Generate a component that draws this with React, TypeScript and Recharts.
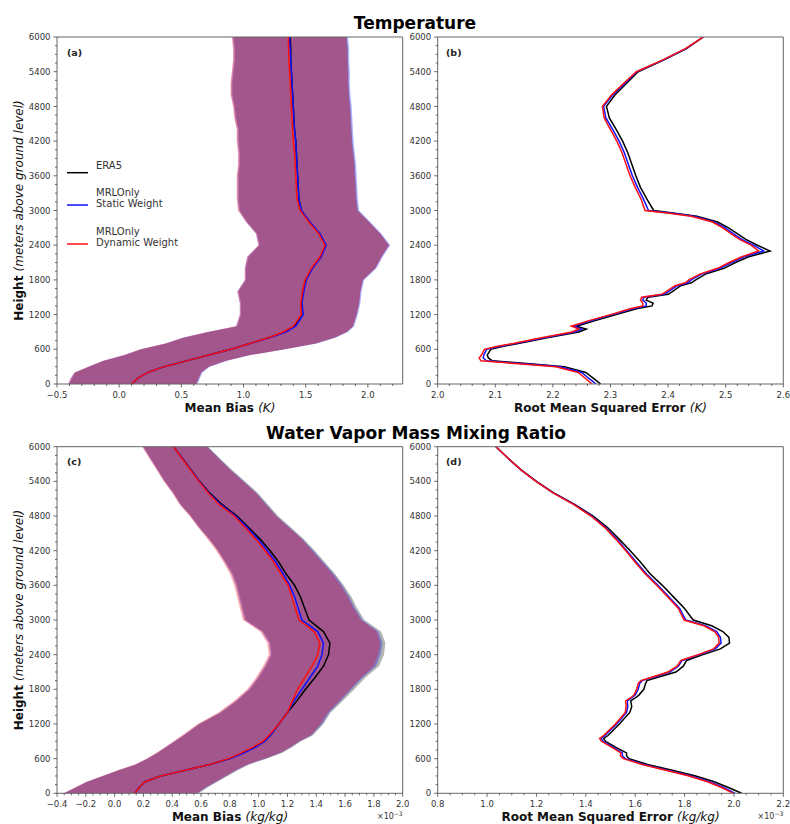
import React from 'react';
import { ComposedChart, Line, Area, XAxis, YAxis } from 'recharts';

const W = 790;
const H = 824;
const FONT = '"DejaVu Sans", sans-serif';
const TXT = '#333';
const FRAME = '#666';
const COL_ERA5 = '#000000';
const COL_SW = '#1010ff';
const COL_DW = '#ff1010';

// ---------- heights ----------
const H_AC = [0, 100, 200, 300, 400, 500, 600, 700, 800, 900, 1000, 1200, 1400, 1600, 1800, 2000, 2200, 2400, 2600, 2800, 3000, 3200, 3400, 3600, 3800, 4000, 4200, 4400, 4600, 4800, 5000, 5200, 5400, 5600, 5800, 6000];
const H_B = [0, 100, 200, 300, 350, 400, 450, 500, 600, 650, 700, 800, 900, 950, 1000, 1100, 1200, 1300, 1350, 1400, 1450, 1500, 1550, 1600, 1700, 1750, 1800, 1900, 2000, 2100, 2200, 2300, 2400, 2500, 2600, 2700, 2800, 2900, 2950, 3000, 3200, 3400, 3600, 3800, 4000, 4200, 4400, 4600, 4800, 5000, 5200, 5400, 5600, 5800, 6000];
const H_D = [0, 100, 200, 300, 400, 500, 600, 650, 700, 800, 900, 950, 1000, 1200, 1400, 1500, 1600, 1650, 1700, 1800, 1900, 1950, 2000, 2100, 2200, 2300, 2400, 2500, 2600, 2700, 2800, 2900, 3000, 3200, 3400, 3600, 3800, 4000, 4200, 4400, 4600, 4800, 5000, 5200, 5400, 5600, 5800, 6000];

// ---------- (a) Temperature mean bias (K) ----------
const A_ERA5 = [0.10, 0.15, 0.23, 0.36, 0.54, 0.72, 0.90, 1.05, 1.20, 1.33, 1.41, 1.47, 1.465, 1.475, 1.50, 1.55, 1.62, 1.66, 1.61, 1.53, 1.465, 1.445, 1.44, 1.435, 1.43, 1.425, 1.42, 1.41, 1.405, 1.40, 1.395, 1.39, 1.385, 1.38, 1.38, 1.375];
const A_SW = [0.10, 0.15, 0.23, 0.36, 0.54, 0.72, 0.90, 1.05, 1.21, 1.34, 1.42, 1.48, 1.47, 1.485, 1.505, 1.555, 1.625, 1.665, 1.615, 1.535, 1.465, 1.445, 1.44, 1.435, 1.43, 1.425, 1.42, 1.41, 1.405, 1.40, 1.395, 1.39, 1.385, 1.38, 1.375, 1.37];
const A_DW = [0.10, 0.15, 0.23, 0.36, 0.54, 0.72, 0.90, 1.05, 1.20, 1.32, 1.40, 1.465, 1.46, 1.475, 1.495, 1.545, 1.615, 1.655, 1.605, 1.525, 1.455, 1.43, 1.425, 1.42, 1.415, 1.41, 1.40, 1.395, 1.39, 1.385, 1.38, 1.375, 1.37, 1.365, 1.362, 1.36];
const A_ERA5_LO = [-0.40, -0.38, -0.35, -0.24, -0.12, 0.05, 0.18, 0.38, 0.52, 0.72, 0.95, 0.98, 0.98, 0.96, 1.02, 1.02, 1.04, 1.13, 1.11, 1.03, 0.97, 0.96, 0.96, 0.96, 0.97, 0.97, 0.96, 0.96, 0.94, 0.93, 0.91, 0.91, 0.92, 0.93, 0.93, 0.92];
const A_ERA5_HI = [0.62, 0.64, 0.66, 0.72, 0.86, 1.05, 1.33, 1.58, 1.73, 1.83, 1.88, 1.91, 1.93, 1.94, 1.96, 2.06, 2.11, 2.17, 2.10, 2.01, 1.92, 1.91, 1.905, 1.90, 1.895, 1.885, 1.875, 1.87, 1.865, 1.86, 1.85, 1.845, 1.845, 1.84, 1.84, 1.83];
const A_SW_LO = [-0.41, -0.39, -0.36, -0.25, -0.13, 0.04, 0.17, 0.37, 0.51, 0.71, 0.94, 0.97, 0.97, 0.95, 1.01, 1.01, 1.03, 1.12, 1.10, 1.02, 0.96, 0.95, 0.95, 0.95, 0.96, 0.96, 0.95, 0.95, 0.93, 0.92, 0.90, 0.90, 0.91, 0.92, 0.92, 0.91];
const A_SW_HI = [0.63, 0.65, 0.67, 0.73, 0.87, 1.06, 1.34, 1.59, 1.74, 1.84, 1.89, 1.92, 1.94, 1.95, 1.97, 2.07, 2.12, 2.18, 2.11, 2.02, 1.93, 1.92, 1.915, 1.91, 1.905, 1.895, 1.885, 1.88, 1.875, 1.87, 1.86, 1.855, 1.855, 1.85, 1.85, 1.84];
const A_DW_LO = [-0.41, -0.39, -0.36, -0.25, -0.13, 0.04, 0.17, 0.37, 0.51, 0.71, 0.94, 0.97, 0.97, 0.95, 1.01, 1.01, 1.03, 1.12, 1.10, 1.02, 0.955, 0.945, 0.945, 0.945, 0.955, 0.955, 0.945, 0.945, 0.925, 0.915, 0.895, 0.895, 0.905, 0.915, 0.915, 0.905];
const A_DW_HI = [0.62, 0.64, 0.66, 0.72, 0.86, 1.05, 1.33, 1.58, 1.73, 1.83, 1.88, 1.91, 1.93, 1.94, 1.96, 2.06, 2.11, 2.17, 2.10, 2.01, 1.915, 1.905, 1.90, 1.895, 1.89, 1.88, 1.87, 1.865, 1.86, 1.855, 1.845, 1.84, 1.84, 1.835, 1.835, 1.825];

// ---------- (b) Temperature RMSE (K) ----------
const B_ERA5 = [2.283, 2.270, 2.257, 2.22, 2.16, 2.095, 2.088, 2.086, 2.092, 2.112, 2.14, 2.19, 2.245, 2.258, 2.241, 2.275, 2.31, 2.345, 2.372, 2.374, 2.362, 2.365, 2.40, 2.408, 2.422, 2.44, 2.448, 2.465, 2.497, 2.517, 2.54, 2.577, 2.555, 2.535, 2.52, 2.505, 2.486, 2.45, 2.415, 2.375, 2.363, 2.352, 2.344, 2.337, 2.33, 2.321, 2.31, 2.298, 2.293, 2.308, 2.328, 2.348, 2.392, 2.432, 2.461];
const B_SW = [2.275, 2.262, 2.25, 2.212, 2.15, 2.085, 2.079, 2.08, 2.085, 2.106, 2.135, 2.185, 2.238, 2.25, 2.236, 2.268, 2.303, 2.338, 2.362, 2.362, 2.356, 2.358, 2.393, 2.401, 2.416, 2.434, 2.44, 2.458, 2.49, 2.51, 2.532, 2.566, 2.548, 2.528, 2.513, 2.499, 2.48, 2.445, 2.41, 2.366, 2.357, 2.347, 2.338, 2.331, 2.324, 2.315, 2.304, 2.292, 2.288, 2.304, 2.325, 2.346, 2.391, 2.431, 2.461];
const B_DW = [2.268, 2.256, 2.244, 2.205, 2.14, 2.075, 2.072, 2.076, 2.081, 2.102, 2.131, 2.18, 2.233, 2.245, 2.232, 2.264, 2.3, 2.334, 2.356, 2.356, 2.352, 2.354, 2.389, 2.397, 2.412, 2.43, 2.436, 2.455, 2.486, 2.506, 2.528, 2.557, 2.544, 2.524, 2.509, 2.495, 2.477, 2.44, 2.405, 2.36, 2.353, 2.343, 2.334, 2.327, 2.32, 2.311, 2.3, 2.289, 2.286, 2.302, 2.323, 2.345, 2.39, 2.43, 2.461];

// ---------- (c) Water vapor mean bias (x1e-3 kg/kg) ----------
const C_ERA5 = [0.14, 0.17, 0.21, 0.32, 0.49, 0.66, 0.80, 0.89, 0.97, 1.04, 1.08, 1.14, 1.20, 1.265, 1.325, 1.39, 1.45, 1.485, 1.495, 1.45, 1.35, 1.32, 1.29, 1.25, 1.19, 1.14, 1.08, 1.01, 0.93, 0.85, 0.745, 0.66, 0.59, 0.53, 0.47, 0.41];
const C_SW = [0.14, 0.17, 0.21, 0.32, 0.49, 0.66, 0.80, 0.90, 0.98, 1.04, 1.08, 1.14, 1.20, 1.245, 1.30, 1.355, 1.41, 1.44, 1.45, 1.41, 1.30, 1.275, 1.25, 1.215, 1.17, 1.12, 1.06, 0.995, 0.92, 0.84, 0.735, 0.655, 0.588, 0.528, 0.469, 0.41];
const C_DW = [0.14, 0.17, 0.21, 0.32, 0.49, 0.66, 0.79, 0.88, 0.96, 1.03, 1.07, 1.14, 1.20, 1.235, 1.27, 1.32, 1.37, 1.41, 1.425, 1.385, 1.28, 1.255, 1.23, 1.205, 1.155, 1.105, 1.045, 0.98, 0.905, 0.83, 0.725, 0.65, 0.585, 0.525, 0.467, 0.41];
const C_ERA5_LO = [-0.35, -0.27, -0.19, -0.08, 0.03, 0.15, 0.23, 0.30, 0.36, 0.42, 0.48, 0.59, 0.74, 0.85, 0.94, 1.00, 1.05, 1.09, 1.08, 1.03, 0.91, 0.89, 0.87, 0.85, 0.82, 0.77, 0.72, 0.66, 0.59, 0.53, 0.46, 0.41, 0.35, 0.30, 0.25, 0.20];
const C_ERA5_HI = [0.585, 0.645, 0.715, 0.785, 0.855, 0.935, 1.055, 1.165, 1.235, 1.295, 1.375, 1.45, 1.50, 1.585, 1.665, 1.74, 1.835, 1.87, 1.88, 1.85, 1.735, 1.685, 1.645, 1.59, 1.53, 1.46, 1.39, 1.315, 1.225, 1.135, 1.065, 0.995, 0.905, 0.815, 0.73, 0.65];
const C_SW_LO = [-0.352, -0.272, -0.192, -0.082, 0.025, 0.145, 0.225, 0.295, 0.355, 0.415, 0.475, 0.585, 0.73, 0.84, 0.93, 0.99, 1.04, 1.08, 1.07, 1.02, 0.90, 0.88, 0.86, 0.84, 0.81, 0.765, 0.715, 0.655, 0.585, 0.525, 0.455, 0.405, 0.345, 0.295, 0.245, 0.195];
const C_SW_HI = [0.575, 0.635, 0.705, 0.775, 0.845, 0.925, 1.045, 1.155, 1.225, 1.285, 1.365, 1.44, 1.49, 1.57, 1.645, 1.72, 1.815, 1.845, 1.86, 1.83, 1.72, 1.67, 1.63, 1.58, 1.52, 1.45, 1.38, 1.305, 1.215, 1.125, 1.055, 0.985, 0.895, 0.805, 0.725, 0.645];
const C_DW_LO = [-0.355, -0.275, -0.195, -0.085, 0.02, 0.14, 0.22, 0.29, 0.35, 0.41, 0.465, 0.575, 0.72, 0.83, 0.92, 0.98, 1.03, 1.07, 1.06, 1.01, 0.89, 0.87, 0.85, 0.83, 0.80, 0.755, 0.705, 0.645, 0.58, 0.52, 0.45, 0.40, 0.34, 0.29, 0.24, 0.19];
const C_DW_HI = [0.57, 0.63, 0.70, 0.77, 0.84, 0.92, 1.04, 1.15, 1.22, 1.28, 1.36, 1.43, 1.48, 1.56, 1.635, 1.71, 1.80, 1.83, 1.845, 1.82, 1.71, 1.66, 1.62, 1.57, 1.51, 1.44, 1.37, 1.30, 1.21, 1.12, 1.05, 0.98, 0.89, 0.80, 0.72, 0.64];

// ---------- (d) Water vapor RMSE (x1e-3 kg/kg) ----------
const D_ERA5 = [2.031, 1.978, 1.92, 1.845, 1.75, 1.65, 1.575, 1.565, 1.565, 1.52, 1.48, 1.472, 1.49, 1.536, 1.578, 1.586, 1.582, 1.6, 1.615, 1.635, 1.642, 1.648, 1.685, 1.765, 1.795, 1.808, 1.875, 1.945, 1.982, 1.98, 1.955, 1.91, 1.835, 1.8, 1.755, 1.71, 1.66, 1.622, 1.58, 1.535, 1.488, 1.43, 1.355, 1.27, 1.2, 1.138, 1.085, 1.036];
const D_SW = [2.005, 1.958, 1.9, 1.825, 1.73, 1.635, 1.56, 1.548, 1.548, 1.51, 1.47, 1.462, 1.478, 1.525, 1.565, 1.57, 1.568, 1.585, 1.6, 1.612, 1.618, 1.628, 1.665, 1.74, 1.775, 1.79, 1.86, 1.925, 1.948, 1.945, 1.93, 1.885, 1.805, 1.78, 1.737, 1.692, 1.645, 1.605, 1.566, 1.525, 1.48, 1.424, 1.352, 1.268, 1.199, 1.137, 1.085, 1.036];
const D_DW = [1.998, 1.95, 1.893, 1.818, 1.724, 1.628, 1.552, 1.54, 1.542, 1.504, 1.463, 1.456, 1.472, 1.52, 1.56, 1.563, 1.562, 1.58, 1.595, 1.606, 1.612, 1.623, 1.66, 1.733, 1.77, 1.785, 1.855, 1.918, 1.94, 1.938, 1.922, 1.878, 1.798, 1.775, 1.732, 1.687, 1.64, 1.6, 1.562, 1.521, 1.477, 1.421, 1.35, 1.267, 1.198, 1.137, 1.085, 1.036];

// ---------- ticks ----------
const Y_MAJOR = [0, 600, 1200, 1800, 2400, 3000, 3600, 4200, 4800, 5400, 6000];
const A_XMAJOR = [-0.5, 0.0, 0.5, 1.0, 1.5, 2.0];
const B_XMAJOR = [2.0, 2.1, 2.2, 2.3, 2.4, 2.5, 2.6];
const C_XMAJOR = [-0.4, -0.2, 0.0, 0.2, 0.4, 0.6, 0.8, 1.0, 1.2, 1.4, 1.6, 1.8, 2.0];
const D_XMAJOR = [0.8, 1.0, 1.2, 1.4, 1.6, 1.8, 2.0, 2.2];

const stepTicks = (a: number, b: number, step: number) => {
  const out: number[] = [];
  const n = Math.round((b - a) / step);
  for (let i = 0; i <= n; i++) out.push(Math.round((a + i * step) * 1e6) / 1e6);
  return out;
};
const isIn = (arr: number[], v: number) => arr.some((m) => Math.abs(m - v) < 1e-6);
const fmt1 = (v: number) => (v < -1e-9 ? '\u2212' : '') + Math.abs(v).toFixed(1);

type Ser = { key: string; vals: number[]; color: string };
type Band = { key: string; lo: number[]; hi: number[]; fill: string };

function makeRows(h: number[], series: Ser[], bands: Band[]) {
  return h.map((hv, i) => {
    const r: any = { h: hv };
    series.forEach((s) => (r[s.key] = s.vals[i]));
    bands.forEach((b) => (r[b.key] = [b.lo[i], b.hi[i]]));
    return r;
  });
}

const xTick = (majors: number[]) => (p: any) => {
  const v = p.payload.value;
  const major = isIn(majors, v);
  return (
    <g>
      <line x1={p.x} x2={p.x} y1={p.y} y2={p.y + (major ? 3.5 : 2)} stroke="#444" strokeWidth={0.8} />
      {major && (
        <text x={p.x} y={p.y + 14} textAnchor="middle" fontSize={8.5} fill={TXT} fontFamily={FONT}>
          {fmt1(v)}
        </text>
      )}
    </g>
  );
};

const yTick = (p: any) => {
  const v = p.payload.value;
  const major = isIn(Y_MAJOR, v);
  return (
    <g>
      <line x1={p.x} x2={p.x - (major ? 3.5 : 2)} y1={p.y} y2={p.y} stroke="#444" strokeWidth={0.8} />
      {major && (
        <text x={p.x - 6.5} y={p.y + 3.1} textAnchor="end" fontSize={8.5} fill={TXT} fontFamily={FONT}>
          {String(v)}
        </text>
      )}
    </g>
  );
};

type PanelProps = {
  rows: any[];
  plot: { left: number; top: number; right: number; bottom: number };
  xDomain: [number, number];
  xMajor: number[];
  xMinor: number[];
  series: Ser[];
  bands: Band[];
};

function Panel({ rows, plot, xDomain, xMajor, xMinor, series, bands }: PanelProps) {
  const margin = { top: plot.top - 1, left: plot.left - 1, right: W - plot.right - 1, bottom: H - plot.bottom - 1 };
  const yTicks = stepTicks(0, 6000, 150);
  return (
    <div style={{ position: 'absolute', left: 0, top: 0 }}>
      <ComposedChart width={W} height={H} data={rows} layout="vertical" margin={margin}>
        <XAxis
          xAxisId="x"
          type="number"
          domain={xDomain}
          allowDataOverflow
          ticks={xMinor}
          interval={0}
          height={1}
          tickSize={0}
          tickMargin={0}
          tickLine={false}
          tick={xTick(xMajor)}
          axisLine={{ stroke: FRAME, strokeWidth: 1 }}
        />
        <XAxis
          xAxisId="t"
          orientation="top"
          type="number"
          domain={xDomain}
          allowDataOverflow
          ticks={xMajor}
          height={1}
          tick={false}
          tickLine={false}
          axisLine={{ stroke: FRAME, strokeWidth: 1 }}
        />
        <YAxis
          yAxisId="y"
          type="number"
          dataKey="h"
          domain={[0, 6000]}
          reversed
          allowDataOverflow
          ticks={yTicks}
          interval={0}
          width={1}
          tickSize={0}
          tickMargin={0}
          tickLine={false}
          tick={yTick}
          axisLine={{ stroke: FRAME, strokeWidth: 1 }}
        />
        <YAxis
          yAxisId="r"
          orientation="right"
          type="number"
          domain={[0, 6000]}
          reversed
          allowDataOverflow
          ticks={Y_MAJOR}
          width={1}
          tick={false}
          tickLine={false}
          axisLine={{ stroke: FRAME, strokeWidth: 1 }}
        />
        {bands.map((b) => (
          <Area
            key={b.key}
            xAxisId="x"
            yAxisId="y"
            dataKey={b.key}
            type="linear"
            stroke="none"
            fill={b.fill}
            fillOpacity={0.3}
            isAnimationActive={false}
          />
        ))}
        {series.map((s) => (
          <Line
            key={s.key}
            xAxisId="x"
            yAxisId="y"
            dataKey={s.key}
            type="linear"
            stroke={s.color}
            strokeWidth={1.5}
            dot={false}
            isAnimationActive={false}
          />
        ))}
      </ComposedChart>
    </div>
  );
}

const serA: Ser[] = [
  { key: 'era5', vals: A_ERA5, color: COL_ERA5 },
  { key: 'sw', vals: A_SW, color: COL_SW },
  { key: 'dw', vals: A_DW, color: COL_DW },
];
const bandA: Band[] = [
  { key: 'era5Band', lo: A_ERA5_LO, hi: A_ERA5_HI, fill: '#000000' },
  { key: 'swBand', lo: A_SW_LO, hi: A_SW_HI, fill: '#0000ff' },
  { key: 'dwBand', lo: A_DW_LO, hi: A_DW_HI, fill: '#ff0000' },
];
const serB: Ser[] = [
  { key: 'era5', vals: B_ERA5, color: COL_ERA5 },
  { key: 'sw', vals: B_SW, color: COL_SW },
  { key: 'dw', vals: B_DW, color: COL_DW },
];
const serC: Ser[] = [
  { key: 'era5', vals: C_ERA5, color: COL_ERA5 },
  { key: 'sw', vals: C_SW, color: COL_SW },
  { key: 'dw', vals: C_DW, color: COL_DW },
];
const bandC: Band[] = [
  { key: 'era5Band', lo: C_ERA5_LO, hi: C_ERA5_HI, fill: '#000000' },
  { key: 'swBand', lo: C_SW_LO, hi: C_SW_HI, fill: '#0000ff' },
  { key: 'dwBand', lo: C_DW_LO, hi: C_DW_HI, fill: '#ff0000' },
];
const serD: Ser[] = [
  { key: 'era5', vals: D_ERA5, color: COL_ERA5 },
  { key: 'sw', vals: D_SW, color: COL_SW },
  { key: 'dw', vals: D_DW, color: COL_DW },
];

const PA = { left: 57, top: 37, right: 402.7, bottom: 384 };
const PB = { left: 437.7, top: 37, right: 783.3, bottom: 384 };
const PC = { left: 57, top: 446.7, right: 402.7, bottom: 793.3 };
const PD = { left: 437.7, top: 446.7, right: 783.3, bottom: 793.3 };

function YLabel({ cy }: { cy: number }) {
  return (
    <text transform={`translate(23, ${cy}) rotate(-90)`} textAnchor="middle" fontSize={12} fill="#111" fontFamily={FONT}>
      <tspan fontWeight="bold">Height </tspan>
      <tspan fontStyle="italic">(meters above ground level)</tspan>
    </text>
  );
}

function XLabel({ cx, y, main, unit }: { cx: number; y: number; main: string; unit: string }) {
  return (
    <text x={cx} y={y} textAnchor="middle" fontSize={12} fill="#111" fontFamily={FONT}>
      <tspan fontWeight="bold">{main} </tspan>
      <tspan fontStyle="italic">({unit})</tspan>
    </text>
  );
}

function Offset({ x, y }: { x: number; y: number }) {
  return (
    <text x={x} y={y} textAnchor="end" fontSize={8} fill={TXT} fontFamily={FONT}>
      <tspan>{'\u00d710'}</tspan>
      <tspan fontSize={6} dy={-3}>{'\u22123'}</tspan>
    </text>
  );
}

function Overlay() {
  const lt = { fontSize: 10, fill: '#333', fontFamily: FONT } as const;
  return (
    <svg width={W} height={H} style={{ position: 'absolute', left: 0, top: 0 }}>
      <text x={415} y={29} textAnchor="middle" fontSize={17} fontWeight="bold" fill="#000" fontFamily={FONT}>
        Temperature
      </text>
      <text x={416} y={439} textAnchor="middle" fontSize={17} fontWeight="bold" fill="#000" fontFamily={FONT}>
        Water Vapor Mass Mixing Ratio
      </text>
      <text x={67} y={55.5} fontSize={9.5} fontWeight="bold" fill="#222" fontFamily={FONT}>(a)</text>
      <text x={446} y={55.5} fontSize={9.5} fontWeight="bold" fill="#222" fontFamily={FONT}>(b)</text>
      <text x={67} y={465} fontSize={9.5} fontWeight="bold" fill="#222" fontFamily={FONT}>(c)</text>
      <text x={446} y={465} fontSize={9.5} fontWeight="bold" fill="#222" fontFamily={FONT}>(d)</text>
      <YLabel cy={210.5} />
      <YLabel cy={620} />
      <XLabel cx={230} y={412} main="Mean Bias" unit="K" />
      <XLabel cx={610.5} y={412} main="Root Mean Squared Error" unit="K" />
      <XLabel cx={230} y={821} main="Mean Bias" unit="kg/kg" />
      <XLabel cx={610.5} y={821} main="Root Mean Squared Error" unit="kg/kg" />
      <Offset x={402.7} y={819} />
      <Offset x={783.3} y={819} />
      <line x1={67} x2={88} y1={172.7} y2={172.7} stroke={COL_ERA5} strokeWidth={1.5} />
      <text x={96} y={169.3} {...lt}>ERA5</text>
      <line x1={67} x2={88} y1={205} y2={205} stroke={COL_SW} strokeWidth={1.5} />
      <text x={96} y={196.3} {...lt}>MRLOnly</text>
      <text x={96} y={207} {...lt}>Static Weight</text>
      <line x1={67} x2={88} y1={244} y2={244} stroke={COL_DW} strokeWidth={1.5} />
      <text x={96} y={234.6} {...lt}>MRLOnly</text>
      <text x={96} y={246.3} {...lt}>Dynamic Weight</text>
    </svg>
  );
}

export default function App() {
  const rowsA = makeRows(H_AC, serA, bandA);
  const rowsB = makeRows(H_B, serB, []);
  const rowsC = makeRows(H_AC, serC, bandC);
  const rowsD = makeRows(H_D, serD, []);
  return (
    <div style={{ position: 'absolute', left: 0, top: 0, width: W, height: H, background: '#fff', overflow: 'hidden' }}>
      <Panel rows={rowsA} plot={PA} xDomain={[-0.5, 2.28]} xMajor={A_XMAJOR} xMinor={stepTicks(-0.5, 2.2, 0.1)} series={serA} bands={bandA} />
      <Panel rows={rowsB} plot={PB} xDomain={[2.0, 2.6]} xMajor={B_XMAJOR} xMinor={stepTicks(2.0, 2.6, 0.02)} series={serB} bands={[]} />
      <Panel rows={rowsC} plot={PC} xDomain={[-0.4, 2.0]} xMajor={C_XMAJOR} xMinor={stepTicks(-0.4, 2.0, 0.05)} series={serC} bands={bandC} />
      <Panel rows={rowsD} plot={PD} xDomain={[0.8, 2.2]} xMajor={D_XMAJOR} xMinor={stepTicks(0.8, 2.2, 0.05)} series={serD} bands={[]} />
      <Overlay />
    </div>
  );
}
